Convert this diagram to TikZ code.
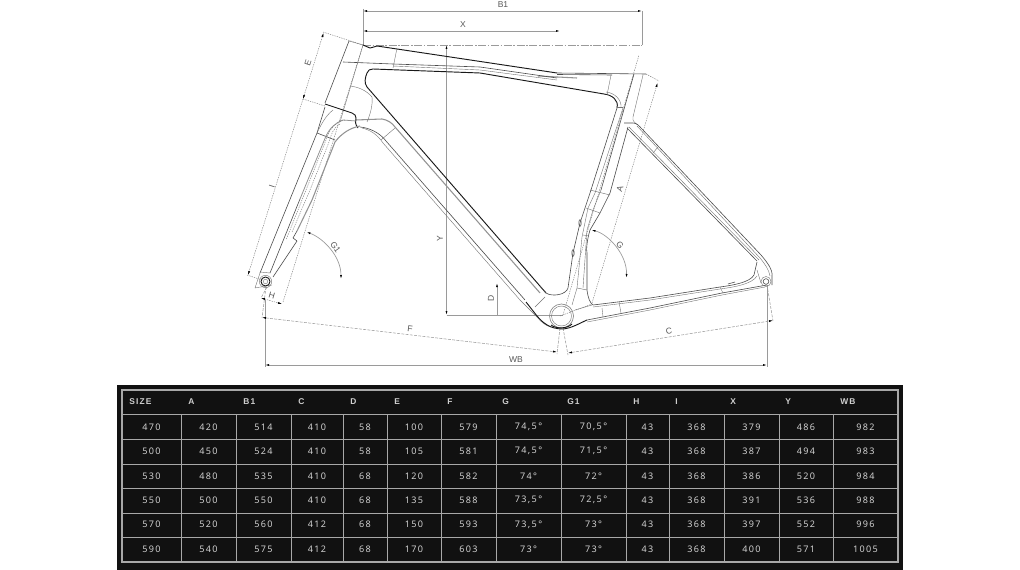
\documentclass[tikz,border=0pt]{standalone}
\usepackage{fontspec}
\setmainfont{Liberation Sans}
\newfontfamily\tabfont[LetterSpace=15]{Noto Sans}
\newfontfamily\tabhead[LetterSpace=14]{Liberation Sans}
\usetikzlibrary{arrows.meta}
\definecolor{tabbg}{HTML}{111111}
\definecolor{tabline}{HTML}{A8A8A8}
\definecolor{tabtext}{HTML}{D0D0D0}
\definecolor{dimgrey}{HTML}{9A9A9A}
\definecolor{framegrey}{HTML}{808080}
\tikzset{
  heavy/.style={black!90,line width=0.7pt,line join=round},
  medium/.style={black!70,line width=0.45pt,line join=round},
  thin line/.style={black!55,line width=0.3pt,line join=round},
  greyband/.style={framegrey!85,line width=0.8pt,line join=round},
  dimline/.style={dimgrey,line width=0.5pt},
  dimdash/.style={dimgrey,line width=0.4pt,dash pattern=on 2.2pt off 1pt},
  dimdot/.style={black!55,line width=0.3pt,dash pattern=on 1pt off 0.8pt},
  dimchain/.style={dimgrey,line width=0.4pt,dash pattern=on 6pt off 1.2pt on 1.2pt off 1.2pt},
  tick/.style={-{Latex[length=3pt,width=1.5pt,black]}},
  ticks/.style={{Latex[length=3pt,width=1.5pt,black]}-{Latex[length=3pt,width=1.5pt,black]}},
  dimlabel/.style={font=\fontsize{6.4pt}{7pt}\selectfont,text=black!65,inner sep=0pt},
  headcell/.style={font=\tabhead\bfseries\fontsize{6.3pt}{7pt}\selectfont,text=tabtext,inner sep=0pt,anchor=west},
  valcell/.style={font=\tabfont\fontsize{6.8pt}{7pt}\selectfont,text=tabtext,inner sep=0pt},
  gridline/.style={tabline,line width=0.55pt}
}
\begin{document}
\begin{tikzpicture}[x=0.75pt,y=-0.75pt]
\useasboundingbox (0,0) rectangle (1020,570);
\fill[white] (0,0) rectangle (1020,570);

% ---------- dimension lines ----------
\draw[dimline] (363,9) -- (363,45);
\draw[dimline] (642,11) -- (642,45);
\draw[dimline,ticks] (363,11) -- (642,11);
\draw[dimline,ticks] (363,31) -- (560,31);
\draw[dimchain] (363,45) -- (642,45);
\draw[dimline,ticks] (446.5,45) -- (446.5,315);
\draw[dimline] (446.5,315) -- (563,315);
\draw[dimline,tick] (497,315) -- (497,283);
\draw[dimline] (265,300) -- (265,367);
\draw[dimline] (767,285) -- (767,367);
\draw[dimline,ticks] (265,365) -- (767,365);
\draw[dimdash] (266,287) -- (262,318);
\draw[dimdash] (560,328) -- (557,354);
\draw[dimdash,ticks] (262,317.5) -- (557,352);
\draw[dimdash] (563,328) -- (568,355);
\draw[dimdash] (767,285) -- (773,321);
\draw[dimdash,ticks] (568,353) -- (773,320.5);
\draw[dimdot] (323,32) -- (363,45);
\draw[dimdot] (303,99) -- (325,106);
\draw[dimdot] (247,275) -- (262,280);
\draw[dimdot,ticks] (323.5,33) -- (303,99);
\draw[dimdot,tick] (303,99) -- (248,275);
\draw[dimdot] (283,302) -- (363,45);
\draw[dimdash] (267,287) -- (261,298);
\draw[dimdot,ticks] (261,298) -- (282,304);
\draw[dimdot] (646,74) -- (659,81);
\draw[dimdot,tick] (592,303) -- (657.5,83);
\draw[dimdot] (563,315) -- (639,55);
\draw[dimdot] (560,316) -- (592,304);
\draw[dimline,ticks] (306.5,232) .. controls (323,238) and (341,256) .. (341,279);
\draw[dimline,ticks] (591.5,230) .. controls (608,234) and (627,254) .. (626.5,278);

% ---------- main triangle ----------
% top tube
\draw[thin line] (349,41) -- (363,45);
\draw[heavy] (363,45) -- (370,48) .. controls (372,48.5) and (374,46) .. (377,46) -- (557,73);
\draw[medium] (557,73) -- (646,74);
\draw[medium] (557,74.5) -- (612,75);
\draw[greyband] (538,76) -- (577,78);
\draw[medium] (343,62) -- (393,64) -- (480,67) -- (557,78);
\draw[thin line] (393,66) -- (480,70) -- (557,80);
% inner triangle
\draw[heavy] (546,293) -- (367,87) .. controls (364,83) and (365,78) .. (367,73)
   .. controls (368,70) and (370,69) .. (373,69) -- (480,73) -- (604,94)
   .. controls (612,95) and (619,100) .. (617,108);
\draw[thin line] (606,92) .. controls (615,93) and (622,100) .. (621,108);
\draw[thin line] (617,107) -- (623,107);
% seat tube
\draw[medium] (617,108) -- (590,193) -- (585,208) -- (580,223) -- (573,253) -- (568,288)
   .. controls (566,295) and (552,297) .. (546,293);
\draw[thin line] (623,108) -- (595,193) -- (588,208) -- (582,237) -- (577,288);
\draw[medium] (634,74) -- (601,190);
\draw[thin line] (601,190) -- (593,210) -- (587,230) -- (583,288);
\draw[thin line] (643,75) -- (633,117) .. controls (632,121) and (635,123) .. (638,125);
\draw[medium] (628,127) -- (610,193) -- (600,213) -- (590,230) .. controls (587,240) and (586,250) .. (587,253)
   -- (587,290) .. controls (588,298) and (590,303) .. (593,305);
\draw[thin line] (590,190) -- (610,195);
\draw[thin line] (586,208) -- (600,213);
\draw[thin line] (577,288) -- (587,290);
\draw[thin line] (575,310) -- (592,305);
\draw[thin line] (577,288) -- (572,305);
\draw[thin line] (583,235) -- (589,236);
\draw[medium] (580,223) ellipse (1.2 and 3.4);
\draw[medium] (573,253) ellipse (1.2 and 3.4);
\draw[thin line] (611,75) -- (607,95);
% down tube
\draw[greyband] (356,120) -- (382,119) .. controls (388,120) and (392,123) .. (395,127) -- (540,293);
\draw[medium] (540,286) -- (546,293);
\draw[medium] (360,127) .. controls (370,128) and (380,133) .. (386,141) -- (525,300);
\draw[thin line] (362,128) .. controls (370,130) and (377,134) .. (383,143) -- (520,300)
   -- (537,317) .. controls (541,322) and (546,326) .. (551,327);
\draw[heavy] (526,302) -- (537,316) .. controls (543,323) and (550,329) .. (563,329) .. controls (572,328) and (578,324) .. (587,320);
\draw[thin line] (381,140) -- (395,128);
\draw[thin line] (545,297) -- (535,307);
% head tube and junctions
\draw[thin line] (363,45) -- (340,122);
\draw[medium] (349,41) -- (325,103);
\draw[thin line] (350,86) .. controls (358,87) and (366,90) .. (372,97) .. controls (373,105) and (370,115) .. (367,122);
\draw[thin line] (397,48) -- (393,68);
% bottom bracket
\draw[medium,framegrey] (561.5,316) circle (12);
\draw[thin line] (561.5,316) circle (10);
\draw[heavy] (551,325) .. controls (556,329) and (567,329) .. (572,324);
% chain stay
\draw[medium] (587,320) -- (650,308) -- (722,293) -- (767,285);
\draw[thin line] (587,322) -- (650,310) -- (722,295) -- (765,287);
\draw[medium] (593,305) -- (650,298) -- (720,287) .. controls (735,285) and (750,282) .. (754,275) -- (757,262);
\draw[thin line] (593,307) -- (650,300) -- (720,289) .. controls (735,287) and (752,284) .. (757,276);
\draw[thin line] (602,308) -- (603,317);
\draw[thin line] (619,302) -- (621,313);
\draw[thin line] (720,287) -- (723,293);
\draw[medium] (728,284) -- (735,282);
% seat stay
\draw[medium] (624,123) -- (633,123) .. controls (637,123) and (639,126) .. (642,129) -- (761,255) .. controls (767,262) and (773,270) .. (772,276) -- (772,285);
\draw[thin line] (637,126) -- (760,258) .. controls (765,264) and (769,270) .. (770,276);
\draw[medium] (627,128) -- (757,261);
\draw[thin line] (629,127) -- (759,260);
\draw[thin line] (653,153) -- (658,147);
\draw[thin line] (766,281.5) circle (5);
\draw[medium] (766,281.5) circle (2.8);
\draw[thin line] (757,270) -- (761,283);

% ---------- fork ----------
\draw[heavy] (325,104) -- (352,113) .. controls (355,114) and (356,116) .. (356,118)
   .. controls (355,121) and (355,124) .. (358,128);
\draw[medium] (325,107) -- (317,133) -- (260,273);
\draw[thin line] (260,273) -- (255,288) -- (272,285);
\draw[thin line] (333,110) .. controls (325,116) and (320,127) .. (317,133);
\draw[medium] (317,133) -- (335,140);
\draw[greyband] (360,126) .. controls (350,128) and (342,133) .. (335,142) -- (312,200) -- (297,231);
\draw[medium] (297,231) -- (293,238) -- (297,241) -- (273,277);
\draw[greyband,line width=0.6pt] (356,121) -- (343,120) .. controls (335,123) and (330,128) .. (326,136) -- (300,199);
\draw[medium] (300,199) -- (270,273);
\draw[dimdot] (345,120) .. controls (335,122) and (329,130) .. (326,140) -- (302,200) -- (286,240);
\draw[dimdot] (340,124) .. controls (333,128) and (331,135) .. (329,142) -- (310,190) -- (292,232);
\draw[thin line] (260,272) -- (270,273);
\draw[thin line] (265.5,281.5) circle (6.2);
\draw[heavy] (265.5,281.5) circle (4.5);
\draw[thin line] (265.5,281.5) circle (2.2);

% ---------- dimension labels ----------
\node[dimlabel] (lblB) at (503,5) {B1};
\node[dimlabel] (lblX) at (463,25) {X};
\node[dimlabel,rotate=72] (lblE) at (308,63) {E};
\node[dimlabel,rotate=72] (lblI) at (272,186) {I};
\node[dimlabel,rotate=90] (lblY) at (440,239) {Y};
\node[dimlabel,rotate=90] (lblD) at (491,298) {D};
\node[dimlabel,rotate=73] (lblA) at (620,189) {A};
\node[dimlabel,rotate=-55] (lblGo) at (335.5,247) {G1};
\node[dimlabel,rotate=-50] (lblG) at (620,245) {G};
\node[dimlabel,rotate=-16] (lblH) at (272,296) {H};
\node[dimlabel,rotate=-7] (lblF) at (410,329) {F};
\node[dimlabel,rotate=9] (lblC) at (669,331) {C};
\node[dimlabel] (lblW) at (516,360) {WB};

% ---------- table ----------
\fill[tabbg] (117,385) rectangle (903,570);
\draw[gridline,line width=0.8pt] (122,390) rectangle (898,562);
\foreach \yy in {414,439,464,488,513,537}
  \draw[gridline] (122,\yy) -- (898,\yy);
\foreach \xx in {181,236,291,343,387,441,496,561,626,669,724,779,833}
  \draw[gridline] (\xx,414) -- (\xx,562);
\foreach \xx/\t [count=\c] in {129/SIZE,188/A,243/B1,298/C,350/D,394/E,447/F,502/G,567/G1,633/H,675/I,730/X,785/Y,840/WB}
  \node[headcell] (head\c) at (\xx,402) {\t};
\def\colx{{151.5,208.5,263.5,317,365,414,468.5,528.5,593.5,647.5,696.5,751.5,806,865.5}}
\foreach \ry/\rn/\vals in {
  427/1/{470,420,514,410,58,100,579,{74,5°},{70,5°},43,368,379,486,982},
  451/2/{500,450,524,410,58,105,581,{74,5°},{71,5°},43,368,387,494,983},
  476/3/{530,480,535,410,68,120,582,{74°},{72°},43,368,386,520,984},
  500/4/{550,500,550,410,68,135,588,{73,5°},{72,5°},43,368,391,536,988},
  524.5/5/{570,520,560,412,68,150,593,{73,5°},{73°},43,368,397,552,996},
  549/6/{590,540,575,412,68,170,603,{73°},{73°},43,368,400,571,1005}}{
  \foreach \v [count=\c] in \vals {
    \pgfmathsetmacro\cx{\colx[\c-1]}
    \node[valcell] (cell\rn-\c) at (\cx,\ry) {\v};
  }
}
\end{tikzpicture}
\end{document}
